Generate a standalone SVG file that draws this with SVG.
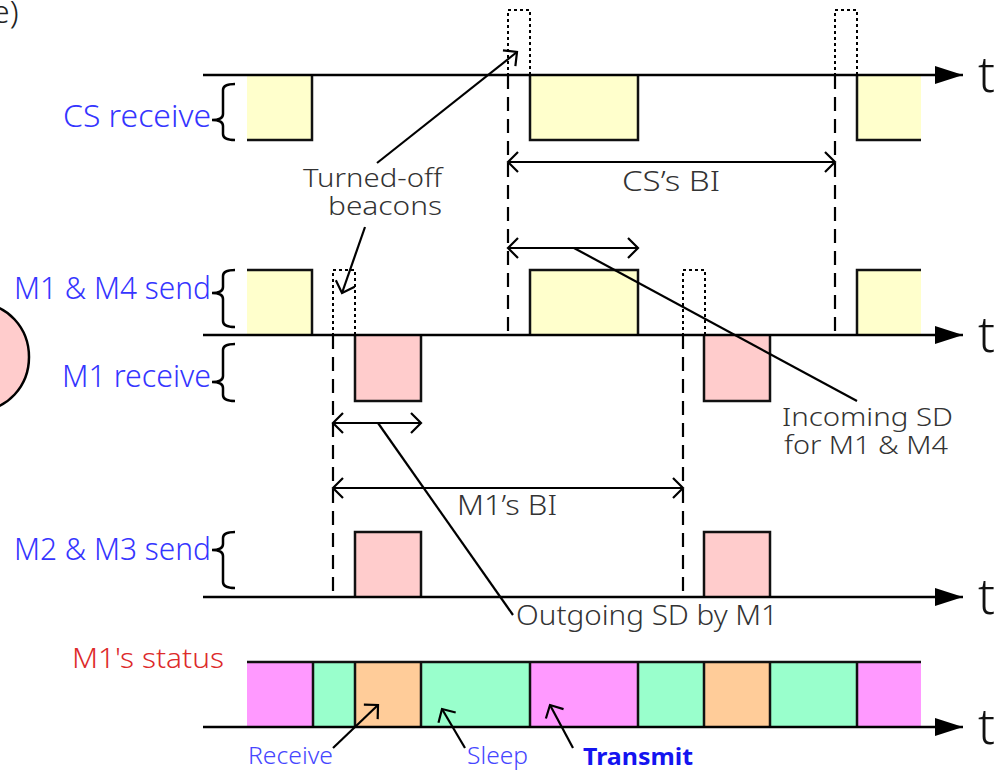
<svg xmlns="http://www.w3.org/2000/svg" width="999" height="772" viewBox="0 0 999 772">
<style>
.ax{stroke:#000;stroke-width:2.5;fill:none}
.bx{stroke:#111;stroke-width:2.5;fill:none}
.dot{stroke:#000;stroke-width:2;stroke-dasharray:3 3;fill:none}
.dash{stroke:#000;stroke-width:2.2;stroke-dasharray:14 8;fill:none}
.ln{stroke:#000;stroke-width:2.2;fill:none}
.br{stroke:#000;stroke-width:2.5;fill:none}
.lbl{font-family:"Noto Sans","DejaVu Sans",sans-serif;font-size:31px;fill:#3535ff;text-anchor:end;font-weight:300}
.ann{font-family:"Noto Sans","DejaVu Sans",sans-serif;font-size:28px;fill:#333;font-weight:300}
.ann2{font-family:"Noto Sans","DejaVu Sans",sans-serif;font-size:26px;fill:#333;font-weight:300}
.tt{font-family:"Noto Sans","DejaVu Sans",sans-serif;font-size:50px;fill:#111;font-weight:300}
.st{font-family:"Noto Sans","DejaVu Sans",sans-serif;font-size:23px;fill:#4646ff;font-weight:300}
.y{fill:#ffffcc}.p{fill:#ffcccc}.m{fill:#ff99ff}.g{fill:#99ffcc}.o{fill:#ffcc99}
</style>
<defs>
<marker id="ah" markerUnits="userSpaceOnUse" markerWidth="30" markerHeight="20" viewBox="0 -10 30 20" refX="28" refY="0" orient="auto">
<path d="M0,-9 L28,0 L0,9 Z" fill="#000"/>
</marker>
<marker id="oa" markerUnits="userSpaceOnUse" markerWidth="14" markerHeight="24" viewBox="-12 -12 14 24" refX="0" refY="0" orient="auto-start-reverse">
<path d="M-10,-10 L0,0 L-10,10" fill="none" stroke="#000" stroke-width="2.2"/>
</marker>
</defs>
<rect width="999" height="772" fill="#fff"/>

<text x="-8" y="23" font-family="Noto Sans, DejaVu Sans, sans-serif" font-size="32" font-weight="300" fill="#222">e)</text>
<ellipse id="blob" cx="-20" cy="357" rx="49" ry="53" fill="#ffcccc" stroke="#000" stroke-width="2.5"/>

<g id="row-cs">
<rect class="y" x="247" y="75" width="65" height="65"/>
<path class="bx" d="M247,140 H312 V75"/>
<rect class="y" x="530" y="75" width="108" height="65"/>
<path class="bx" d="M530,75 V140 H638 V75"/>
<rect class="y" x="857" y="75" width="64" height="65"/>
<path class="bx" d="M857,75 V140 H921"/>
<rect class="dot" x="508" y="10" width="22" height="65"/>
<rect class="dot" x="835" y="10" width="22" height="65"/>
<path class="br" d="M235,84 Q223,84 223,90 L223,114 Q223,120 212,120 Q223,120 223,126 L223,134 Q223,140 235,140"/>
<text class="lbl" x="211" y="127" textLength="148" lengthAdjust="spacingAndGlyphs">CS receive</text>
</g>

<g id="row-m14">
<rect class="y" x="247" y="270" width="65" height="65"/>
<path class="bx" d="M247,270 H312 V335"/>
<rect class="y" x="530" y="270" width="108" height="65"/>
<path class="bx" d="M530,335 V270 H638 V335"/>
<rect class="y" x="857" y="270" width="64" height="65"/>
<path class="bx" d="M857,335 V270 H921"/>
<rect class="dot" x="333" y="270" width="22" height="65"/>
<rect class="dot" x="683" y="270" width="22" height="65"/>
<path class="br" d="M235,270 Q223,270 223,276 L223,287 Q223,293 212,293 Q223,293 223,299 L223,321 Q223,327 235,327"/>
<text class="lbl" x="211" y="299" textLength="197" lengthAdjust="spacingAndGlyphs">M1 &amp; M4 send</text>
</g>

<g id="row-m1r">
<rect class="p" x="355" y="335" width="66" height="66"/>
<path class="bx" d="M355,335 V401 H421 V335"/>
<rect class="p" x="704" y="335" width="66" height="66"/>
<path class="bx" d="M704,335 V401 H770 V335"/>
<path class="br" d="M235,344 Q223,344 223,350 L223,376 Q223,382 212,382 Q223,382 223,388 L223,395 Q223,401 235,401"/>
<text class="lbl" x="211" y="387" textLength="149" lengthAdjust="spacingAndGlyphs">M1 receive</text>
</g>

<g id="row-m23">
<rect class="p" x="355" y="532" width="66" height="65"/>
<path class="bx" d="M355,597 V532 H421 V597"/>
<rect class="p" x="704" y="532" width="66" height="65"/>
<path class="bx" d="M704,597 V532 H770 V597"/>
<path class="br" d="M235,532 Q223,532 223,538 L223,544 Q223,550 212,550 Q223,550 223,556 L223,582 Q223,588 235,588"/>
<text class="lbl" x="211" y="560" textLength="197" lengthAdjust="spacingAndGlyphs">M2 &amp; M3 send</text>
</g>

<g id="row-status">
<rect class="m" x="247" y="662" width="66" height="65"/>
<rect class="g" x="313" y="662" width="42" height="65"/>
<rect class="o" x="355" y="662" width="66" height="65"/>
<rect class="g" x="421" y="662" width="109" height="65"/>
<rect class="m" x="530" y="662" width="108" height="65"/>
<rect class="g" x="638" y="662" width="66" height="65"/>
<rect class="o" x="704" y="662" width="66" height="65"/>
<rect class="g" x="770" y="662" width="87" height="65"/>
<rect class="m" x="857" y="662" width="64" height="65"/>
<path class="bx" d="M247,662 H921 M313,662 V727 M355,662 V727 M421,662 V727 M530,662 V727 M638,662 V727 M704,662 V727 M770,662 V727 M857,662 V727"/>
<text x="224" y="668" font-family="Noto Sans, DejaVu Sans, sans-serif" font-size="28" font-weight="300" fill="#dd2a2a" text-anchor="end" textLength="152" lengthAdjust="spacingAndGlyphs">M1's status</text>
<text class="st" x="248" y="764" textLength="85" lengthAdjust="spacingAndGlyphs">Receive</text>
<text class="st" x="467" y="764" textLength="61" lengthAdjust="spacingAndGlyphs">Sleep</text>
<text x="583" y="765" font-family="Noto Sans, DejaVu Sans, sans-serif" font-size="24" font-weight="bold" fill="#1414f0" textLength="110" lengthAdjust="spacingAndGlyphs">Transmit</text>
</g>

<g id="axes">
<path class="ax" d="M203,75 H963" marker-end="url(#ah)"/>
<path class="ax" d="M203,335 H963" marker-end="url(#ah)"/>
<path class="ax" d="M203,597 H963" marker-end="url(#ah)"/>
<path class="ax" d="M203,727 H963" marker-end="url(#ah)"/>
<text class="tt" x="978" y="92">t</text>
<text class="tt" x="978" y="352">t</text>
<text class="tt" x="978" y="614">t</text>
<text class="tt" x="978" y="744">t</text>
</g>

<g id="connectors">
<path class="dash" d="M508,75 V332 M835,75 V332 M333,335 V594 M683,335 V594"/>
<path class="ln" d="M508,162 H835" marker-start="url(#oa)" marker-end="url(#oa)"/>
<path class="ln" d="M508,248 H638" marker-start="url(#oa)" marker-end="url(#oa)"/>
<path class="ln" d="M333,423 H421" marker-start="url(#oa)" marker-end="url(#oa)"/>
<path class="ln" d="M333,488 H683" marker-start="url(#oa)" marker-end="url(#oa)"/>
<path class="ln" d="M377,163 L517,52" marker-end="url(#oa)"/>
<path class="ln" d="M365,227 L342,293" marker-end="url(#oa)"/>
<path class="ln" d="M574,248 L857,401"/>
<path class="ln" d="M378,423 L513,615"/>
<path class="ln" d="M333,748 L378,705" marker-end="url(#oa)"/>
<path class="ln" d="M465,748 L442,709" marker-end="url(#oa)"/>
<path class="ln" d="M573,748 L550,705" marker-end="url(#oa)"/>
</g>

<g id="annotations">
<text class="ann2" x="303" y="187" textLength="139" lengthAdjust="spacingAndGlyphs">Turned-off</text>
<text class="ann2" x="328" y="215" textLength="114" lengthAdjust="spacingAndGlyphs">beacons</text>
<text class="ann" x="622" y="191" textLength="98" lengthAdjust="spacingAndGlyphs">CS’s BI</text>
<text class="ann2" x="782" y="426" textLength="171" lengthAdjust="spacingAndGlyphs">Incoming SD</text>
<text class="ann2" x="784" y="454" textLength="164" lengthAdjust="spacingAndGlyphs">for M1 &amp; M4</text>
<text class="ann" x="457" y="515" textLength="100" lengthAdjust="spacingAndGlyphs">M1’s BI</text>
<text class="ann" x="516" y="625" textLength="262" lengthAdjust="spacingAndGlyphs">Outgoing SD by M1</text>
</g>
</svg>
